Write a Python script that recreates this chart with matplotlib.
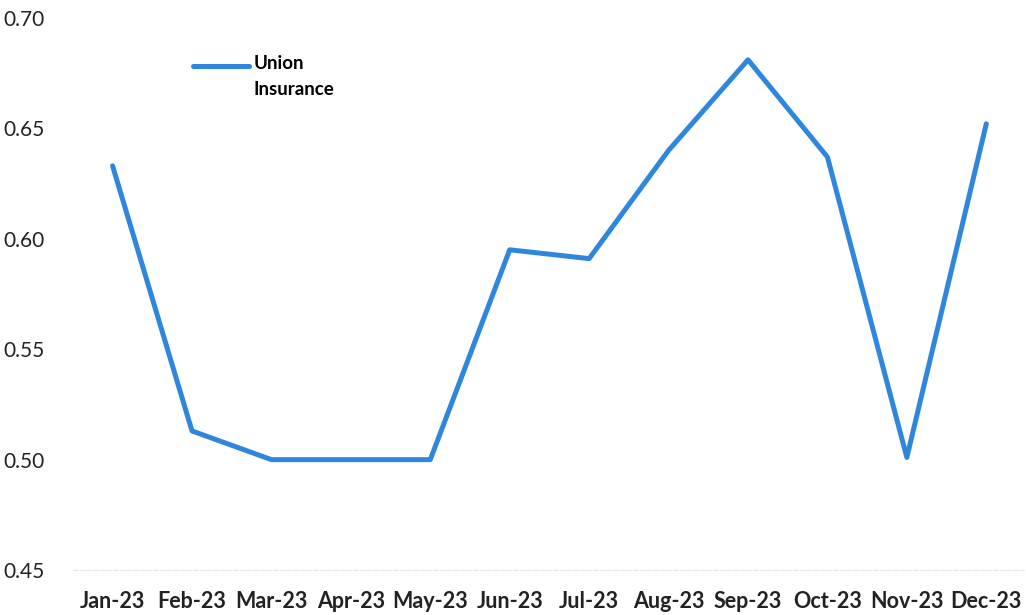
import matplotlib
matplotlib.use("Agg")
from matplotlib import pyplot as plt

months = ["Jan-23", "Feb-23", "Mar-23", "Apr-23", "May-23", "Jun-23",
          "Jul-23", "Aug-23", "Sep-23", "Oct-23", "Nov-23", "Dec-23"]
union_insurance = [0.633, 0.513, 0.500, 0.500, 0.500, 0.595,
                   0.591, 0.640, 0.681, 0.637, 0.501, 0.652]
y_ticks = [0.45, 0.50, 0.55, 0.60, 0.65, 0.70]

plt.rcParams['font.family'] = ['Lato', 'DejaVu Sans']

fig = plt.figure(figsize=(10.26, 6.15), dpi=100)
ax = fig.add_axes([0.071, 0.073, 0.929, 0.898])

x = list(range(len(months)))
ax.plot(x, union_insurance, color="#2f87dd", lw=3.6,
        solid_joinstyle="round", solid_capstyle="round",
        label="Union\nInsurance")

ax.set_xlim(-0.5, len(months) - 0.5)
ax.set_ylim(0.45, 0.70)
ax.set_yticks(y_ticks)
ax.set_yticklabels([f"{v:.2f}" for v in y_ticks], fontsize=15, color="#222222")
ax.set_xticks(x)
ax.set_xticklabels(months, fontsize=15.5, fontweight="bold", color="#222222")
ax.tick_params(axis="x", length=0, pad=15)
ax.tick_params(axis="y", length=0, pad=20)

for side in ["top", "right", "left"]:
    ax.spines[side].set_visible(False)
ax.spines["bottom"].set_color("#e6e6e6")
ax.spines["bottom"].set_linestyle((0, (4, 2)))

leg = ax.legend(loc="upper left", bbox_to_anchor=(0.108, 0.975), frameon=False,
                handlelength=3.0, handleheight=4.6, handletextpad=0.25,
                prop={"size": 13.5, "weight": "bold"})
for t in leg.get_texts():
    t.set_linespacing(1.65)

fig.savefig("out.png", dpi=100)
